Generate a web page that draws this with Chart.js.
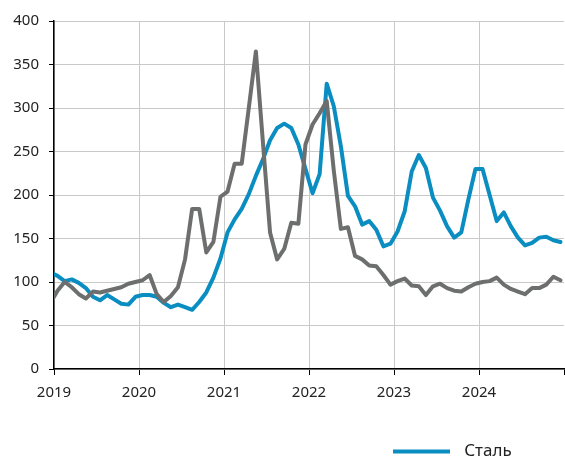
<!DOCTYPE html>
<html>
<head>
<meta charset="utf-8">
<script src="https://cdn.jsdelivr.net/npm/chart.js@4"></script>
<style>
  html, body { margin: 0; padding: 0; background: #fff; }
  #wrap { width: 565px; height: 461px; }
</style>
</head>
<body>
<div id="wrap"><canvas id="c" width="565" height="461"></canvas></div>
<script>
// Monthly points, Dec 2018 .. Dec 2024 (first point lies just left of the axis and is clipped)
const months = ['2018-12',
 '2019-01','2019-02','2019-03','2019-04','2019-05','2019-06','2019-07','2019-08','2019-09','2019-10','2019-11','2019-12',
 '2020-01','2020-02','2020-03','2020-04','2020-05','2020-06','2020-07','2020-08','2020-09','2020-10','2020-11','2020-12',
 '2021-01','2021-02','2021-03','2021-04','2021-05','2021-06','2021-07','2021-08','2021-09','2021-10','2021-11','2021-12',
 '2022-01','2022-02','2022-03','2022-04','2022-05','2022-06','2022-07','2022-08','2022-09','2022-10','2022-11','2022-12',
 '2023-01','2023-02','2023-03','2023-04','2023-05','2023-06','2023-07','2023-08','2023-09','2023-10','2023-11','2023-12',
 '2024-01','2024-02','2024-03','2024-04','2024-05','2024-06','2024-07','2024-08','2024-09','2024-10','2024-11','2024-12'];

const steel = [111,
 107,101,103,99,93,83,79,85,80,75,74,83,
 85,85,83,76,71,74,71,68,77,88,105,127,
 157,172,184,201,222,241,263,277,282,277,258,230,
 202,224,328,302,256,199,187,166,170,160,141,144,
 158,181,227,246,231,197,182,164,151,157,195,230,
 230,200,170,180,164,151,142,145,151,152,148,146];

const series2 = [76,
 90,100,94,86,81,89,88,90,92,94,98,100,
 102,108,86,77,84,94,126,184,184,134,146,198,
 204,236,236,300,365,260,157,126,138,168,167,258,
 281,294,308,228,161,163,130,126,119,118,108,97,
 101,104,96,95,85,95,98,93,90,89,94,98,
 100,101,105,97,92,89,86,93,93,97,106,102];

const yearTicks = [2019, 2020, 2021, 2022, 2023, 2024, 2025];
const yTicks = [0, 50, 100, 150, 200, 250, 300, 350, 400];

const BLUE = '#0a8dc1';
const GRAY = '#6d6e6e';
const FONT = '"Noto Sans", "Open Sans", sans-serif';

// month position (months since Jan 2019, mid-month)
function monthPos(m) {
  const [y, mo] = m.split('-').map(Number);
  return (y - 2019) * 12 + (mo - 1) + 0.5;
}
const toXY = arr => arr.map((v, i) => ({ x: monthPos(months[i]), y: v }));

const legendPlace = {
  id: 'legendPlace',
  beforeDraw(chart) {
    const lg = chart.legend;
    if (!lg) return;
    const w = lg.right - lg.left;
    lg.left = 383;
    lg.right = 383 + w;
    const h = lg.bottom - lg.top;
    lg.top = 433;
    lg.bottom = 433 + h;
  }
};

new Chart(document.getElementById('c'), {
  type: 'line',
  data: {
    datasets: [
      { label: 'Сталь', data: toXY(steel), borderColor: BLUE, backgroundColor: BLUE,
        borderWidth: 4, pointRadius: 0, tension: 0, clip: 0, order: 1,
        borderJoinStyle: 'round', borderCapStyle: 'round' },
      { label: '', data: toXY(series2), borderColor: GRAY, backgroundColor: GRAY,
        borderWidth: 4, pointRadius: 0, tension: 0, clip: 0, order: 0,
        borderJoinStyle: 'round', borderCapStyle: 'round' }
    ]
  },
  options: {
    responsive: false,
    animation: false,
    devicePixelRatio: 1,
    layout: { padding: { top: 21, right: 1, left: 0, bottom: 0 } },
    plugins: {
      tooltip: { enabled: false },
      legend: {
        position: 'bottom',
        align: 'start',
        labels: {
          boxWidth: 57,
          boxHeight: 4,
          padding: 10,
          color: '#222',
          font: { family: FONT, size: 17 },
          generateLabels: () => [{
            text: '\u2004Сталь', fillStyle: BLUE, strokeStyle: BLUE, lineWidth: 0,
            hidden: false, datasetIndex: 0, fontColor: '#222'
          }]
        }
      }
    },
    scales: {
      x: {
        type: 'linear',
        min: 0,
        max: 72,
        afterBuildTicks: s => { s.ticks = yearTicks.map(y => ({ value: (y - 2019) * 12 })); },
        afterFit: s => { s.height = 55; s.paddingRight = 0; s.paddingLeft = 0; },
        ticks: {
          autoSkip: false,
          maxRotation: 0,
          padding: 9,
          color: '#222',
          font: { family: FONT, size: 15 },
          callback: v => { const y = 2019 + v / 12; return y < 2025 ? String(y) : ''; }
        },
        grid: {
          color: ctx => (ctx.tick && ctx.tick.value === 72) ? 'rgba(0,0,0,0)' : '#c9c9c9',
          lineWidth: 1,
          tickColor: '#000',
          tickLength: 6,
          drawTicks: true
        },
        border: { color: '#000', width: 1.5 }
      },
      y: {
        min: 0,
        max: 400,
        afterBuildTicks: s => { s.ticks = yTicks.map(v => ({ value: v })); },
        afterFit: s => { s.width = 54; },
        ticks: {
          padding: 10,
          color: '#222',
          font: { family: FONT, size: 15 }
        },
        grid: {
          color: '#c9c9c9',
          lineWidth: 1,
          tickColor: '#000',
          tickLength: 5,
          drawTicks: true
        },
        border: { color: '#000', width: 1.5 }
      }
    }
  },
  plugins: [legendPlace]
});
</script>
</body>
</html>
